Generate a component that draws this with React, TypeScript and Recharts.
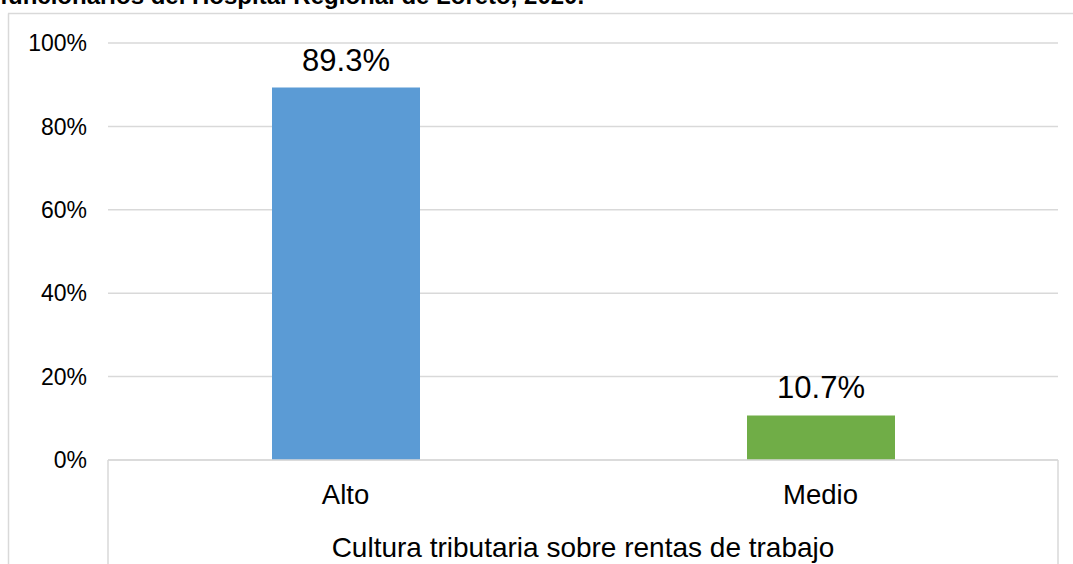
import React from 'react';
import { BarChart, Bar, XAxis, YAxis, CartesianGrid, Cell, LabelList } from 'recharts';

const categories = ['Alto', 'Medio'];
const values = [0.893, 0.107];
const colors = ['#5B9BD5', '#70AD47'];
const yTicks = [0, 0.2, 0.4, 0.6, 0.8, 1];
const titleText = 'funcionarios del Hospital Regional de Loreto, 2020.';
const axisTitle = 'Cultura tributaria sobre rentas de trabajo';

const data = categories.map((c, i) => ({ name: c, value: values[i] }));

const FONT = '"Liberation Sans", Arial, sans-serif';

export default function App() {
  return (
    <div style={{ position: 'absolute', left: 0, top: 0, width: 1073, height: 564, overflow: 'hidden', background: '#fff', fontFamily: FONT }}>
      <svg width={1073} height={564} style={{ position: 'absolute', left: 0, top: 0 }}>
        <text x={0} y={4} fontSize={24} fontWeight="bold" fill="#000" fontFamily={FONT}>{titleText}</text>
        <line x1={8.5} y1={13.5} x2={8.5} y2={564} stroke="#D9D9D9" strokeWidth={1.5} />
        <line x1={8} y1={13.5} x2={1073} y2={13.5} stroke="#D9D9D9" strokeWidth={1.5} />
      </svg>
      <div style={{ position: 'absolute', left: 0, top: 0 }}>
        <BarChart width={1073} height={564} data={data} margin={{ top: 43, right: 15, left: 0, bottom: 0 }} barSize={148}>
          <CartesianGrid vertical={false} stroke="#D9D9D9" strokeWidth={1.5} />
          <YAxis
            width={108}
            domain={[0, 1]}
            ticks={yTicks}
            tickFormatter={(v: number) => `${Math.round(v * 100)}%`}
            axisLine={false}
            tickLine={false}
            tickSize={0}
            tickMargin={21}
            tick={{ fontSize: 23, fill: '#000', fontFamily: FONT }}
            interval={0}
          />
          <XAxis
            dataKey="name"
            height={104}
            axisLine={{ stroke: '#D9D9D9', strokeWidth: 1.5 }}
            tickLine={false}
            tickSize={0}
            tickMargin={24}
            tick={{ fontSize: 27.5, fill: '#000', fontFamily: FONT }}
            label={{ value: axisTitle, position: 'insideBottom', offset: 7, fontSize: 28, fill: '#000', fontFamily: FONT }}
          />
          <Bar dataKey="value" isAnimationActive={false}>
            {data.map((d, i) => (
              <Cell key={d.name} fill={colors[i]} />
            ))}
            <LabelList
              dataKey="value"
              position="top"
              offset={17}
              formatter={(v: number) => `${(v * 100).toFixed(1)}%`}
              style={{ fontSize: 31, fill: '#000', fontFamily: FONT }}
            />
          </Bar>
        </BarChart>
      </div>
      <svg width={1073} height={564} style={{ position: 'absolute', left: 0, top: 0, pointerEvents: 'none' }}>
        <line x1={108} y1={460} x2={108} y2={564} stroke="#D9D9D9" strokeWidth={1.5} />
        <line x1={1058} y1={460} x2={1058} y2={564} stroke="#D9D9D9" strokeWidth={1.5} />
      </svg>
    </div>
  );
}
